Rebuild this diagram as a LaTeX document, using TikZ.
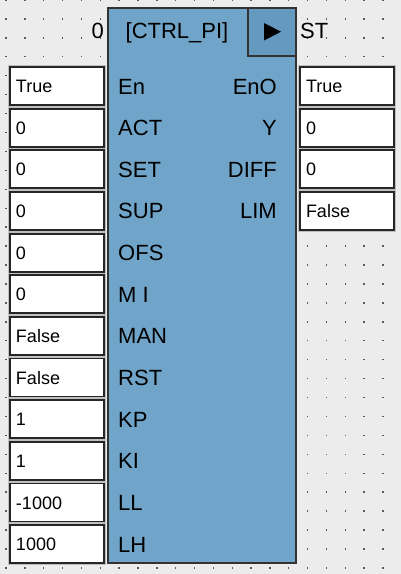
\documentclass[tikz,border=0pt]{standalone}
\usepackage{fontspec}
\setmainfont{Liberation Sans}

\definecolor{canvasgrey}{RGB}{236,236,236}
\definecolor{dotgrey}{RGB}{90,90,90}
\definecolor{blockblue}{RGB}{112,164,200}
\definecolor{runblue}{RGB}{101,153,192}

\tikzset{
	inbox/.style={draw=black!85, line width=1.8pt, fill=white,
		preaction={draw=black!25, line width=4pt},
		minimum width=94pt, minimum height=38pt, text width=82pt,
		inner xsep=6pt, text height=13pt, text depth=0pt, align=left,
		font=\fontsize{18}{20}\selectfont},
	pinlbl/.style={inner sep=0pt, font=\fontsize{22}{24}\selectfont},
}

\begin{document}
\begin{tikzpicture}[x=1pt, y=-1pt]
		\useasboundingbox (0, 0) rectangle (401, 574);
		\fill[canvasgrey] (0, 0) rectangle (401, 574);

		% grid dots
		\foreach \i in {0, ..., 20}{
				\foreach \j in {0, ..., 30}{
						\fill[dotgrey] ({6+18.85*\i-0.7}, {18.93*\j-0.7}) rectangle ++(1.4, 1.4);
					}
			}

		% function block
		\draw[line width=2pt, draw=black!80, fill=blockblue] (108, 8) rectangle (296, 563);
		\node[draw=black!80, line width=1.6pt, fill=runblue, minimum size=48pt, inner sep=0pt] (run) at (272, 32) {};
		\fill[black] (264, 23) -- (264, 40.5) -- (281, 31.7) -- cycle;

		\node[pinlbl, anchor=base east] (num) at (104, 38.5) {0};
		\node[pinlbl, anchor=base] (title) at (177, 38.5) {[CTRL\_PI]};
		\node[pinlbl, anchor=base west] (st) at (300, 38.5) {ST};

		% inputs
		\foreach \lbl/\val [count=\i from 0] in {En/True, ACT/0, SET/0, SUP/0, OFS/0, M I/0,
				MAN/False, RST/False, KP/1, KI/1, LL/-1000, LH/1000}{
				\node[inbox] (in\i) at (57, {86+41.65*\i}) {\val};
				\node[pinlbl, anchor=base west] (inpin\i) at (118, {94+41.65*\i}) {\lbl};
			}

		% outputs
		\foreach \lbl/\val [count=\i from 0] in {EnO/True, Y/0, DIFF/0, LIM/False}{
				\node[inbox] (out\i) at (347, {86+41.65*\i}) {\val};
				\node[pinlbl, anchor=base east] (outpin\i) at (277, {94+41.65*\i}) {\lbl};
			}
	\end{tikzpicture}
\end{document}
